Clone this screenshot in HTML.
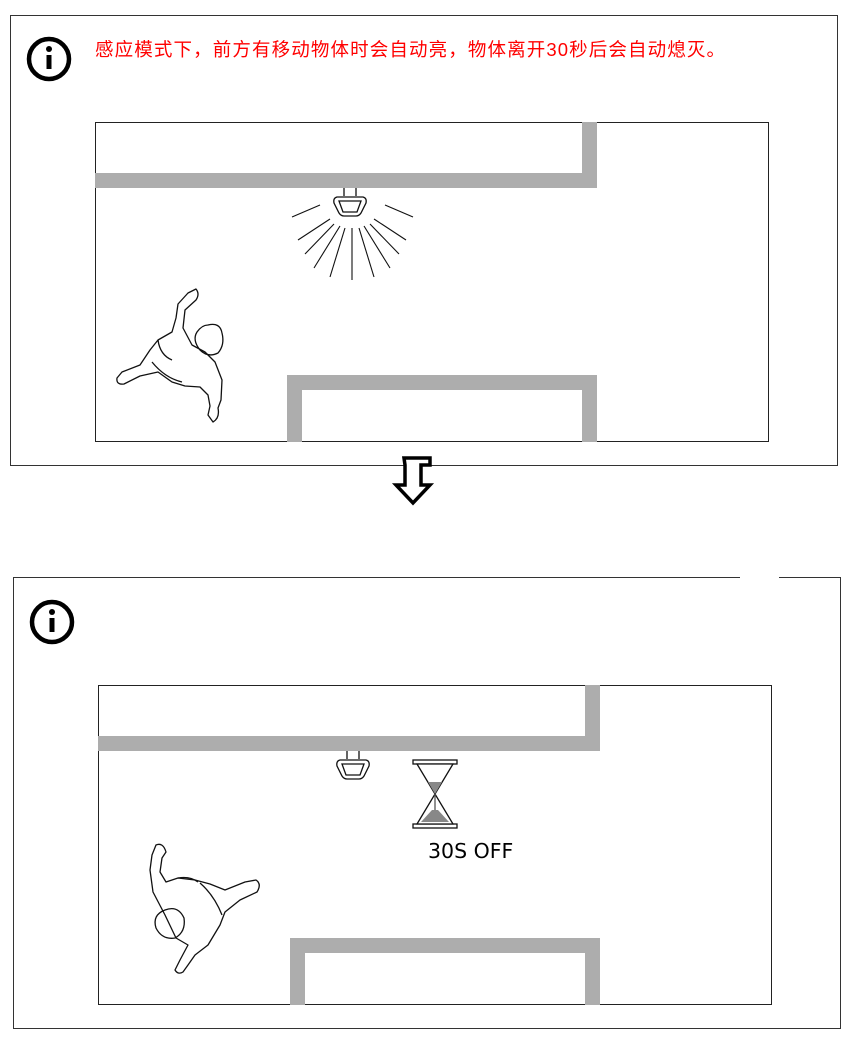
<!DOCTYPE html>
<html><head><meta charset="utf-8"><style>
html,body{margin:0;padding:0;background:#fff;width:850px;height:1038px;overflow:hidden}
</style></head><body>
<svg width="850" height="1038" viewBox="0 0 850 1038" xmlns="http://www.w3.org/2000/svg">
<defs>
<g id="room">
  <rect x="95.5" y="122.5" width="673" height="319" fill="#fff" stroke="#222" stroke-width="1"/>
  <rect x="95" y="173" width="502" height="15" fill="#adadad"/>
  <rect x="582" y="122" width="15" height="66" fill="#adadad"/>
  <rect x="287" y="375" width="310" height="15" fill="#adadad"/>
  <rect x="287" y="375" width="15" height="67" fill="#adadad"/>
  <rect x="582" y="375" width="15" height="67" fill="#adadad"/>
  <g fill="none" stroke="#111" stroke-width="1.3">
    <line x1="344" y1="188" x2="344" y2="196"/><line x1="356" y1="188" x2="356" y2="196"/>
    <path d="M337 197 H363 Q367 198 366 203 L361 213 Q359 216 356 216 H344 Q341 216 339 213 L334 203 Q333 198 337 197 Z"/>
    <path d="M339 201 H361 L357 212 H343 Z"/>
  </g>
</g>
<g id="info">
  <circle cx="0" cy="0" r="20" fill="none" stroke="#000" stroke-width="4.5"/>
  <rect x="-2.5" y="-4" width="5" height="14" fill="#000"/>
  <circle cx="0" cy="-10" r="3" fill="#000"/>
</g>
</defs>

<rect x="10.5" y="15.5" width="827" height="450" fill="none" stroke="#333" stroke-width="1"/>
<use href="#info" x="49" y="59"/>
<text x="95" y="56" font-family="'Liberation Sans', 'Noto Sans CJK SC', sans-serif" font-size="18.5" fill="#ff0000" textLength="630" lengthAdjust="spacing">感应模式下，前方有移动物体时会自动亮，物体离开30秒后会自动熄灭。</text>
<use href="#room"/>
<g stroke="#111" stroke-width="1.1">
  <line x1="352" y1="228" x2="352" y2="280"/>
  <line x1="345" y1="228" x2="330" y2="277"/><line x1="359" y1="228" x2="374" y2="277"/>
  <line x1="340" y1="226" x2="314" y2="268"/><line x1="364" y1="226" x2="390" y2="268"/>
  <line x1="334" y1="224" x2="305" y2="254"/><line x1="370" y1="224" x2="399" y2="254"/>
  <line x1="330" y1="219" x2="298" y2="240"/><line x1="374" y1="219" x2="406" y2="240"/>
  <line x1="320" y1="205" x2="292" y2="217"/><line x1="385" y1="205" x2="413" y2="217"/>
</g>
<g fill="none" stroke="#111" stroke-width="1.3" stroke-linejoin="round">
  <path d="M188 293 L196 289 Q200 294 196 300 L185 310 L183 328 L192 345 L205 352 L215 362 L222 380 L221 400 L218 408 Q220 418 213 422 L208 415 L210 406 L208 395 L200 387 L185 386 L172 382 L158 372 L140 376 L124 384 Q116 385 117 378 L122 372 L140 365 L150 350 L158 340 L172 332 L176 318 L178 304 Z"/>
  <path d="M208 325 Q220 322 222 333 Q225 345 218 353 Q208 358 200 350 Q192 340 197 332 Q202 325 208 325 Z"/>
  <path d="M152 362 Q165 378 182 382"/>
  <path d="M158 340 Q160 355 172 360"/>
</g>

<path d="M404 458 H430 V465 H421 V485 H430 L413 503 L396 485 H405 V465 Z" fill="#fff" stroke="#000" stroke-width="3.5" stroke-linejoin="miter"/>

<path d="M740 577.5 H13.5 V1028.5 H840.5 V577.5 H779" fill="none" stroke="#333" stroke-width="1"/>
<use href="#info" x="52" y="622"/>
<g transform="translate(3,563)"><use href="#room"/></g>
<g stroke="#111" stroke-width="1.3" fill="none">
  <rect x="413" y="760" width="44" height="4" fill="#fff"/>
  <rect x="413" y="824" width="44" height="4" fill="#fff"/>
  <path d="M417 764 L453 764 L435 794 Z" fill="#fff"/>
  <path d="M417 824 L453 824 L435 794 Z" fill="#fff"/>
  <path d="M428 782 H442 L435 794 Z" fill="#888" stroke="none"/>
  <path d="M421 822 H449 L438 810 H432 Z" fill="#888" stroke="none"/>
  <line x1="435" y1="794" x2="435" y2="810" stroke="#555"/>
</g>
<text x="428" y="858" font-family="'DejaVu Sans', sans-serif" font-size="20.5" fill="#000">30S OFF</text>
<g fill="none" stroke="#111" stroke-width="1.3" stroke-linejoin="round">
  <path d="M156 845 Q163 842 166 852 L162 858 L160 872 L166 882 L178 878 L195 880 L210 884 L225 890 L245 882 L256 880 Q262 884 257 892 L240 900 L225 912 L220 925 L208 945 L195 955 L188 965 L183 972 Q178 975 175 970 L180 960 L188 945 L176 938 L165 915 L153 892 L150 870 L152 855 Z"/>
  <path d="M165 910 Q178 905 184 918 Q186 932 175 938 Q162 940 156 928 Q152 915 165 910 Z"/>
  <path d="M200 883 Q214 895 222 915"/>
  <path d="M178 878 Q190 876 198 882"/>
</g>
</svg>
</body></html>
